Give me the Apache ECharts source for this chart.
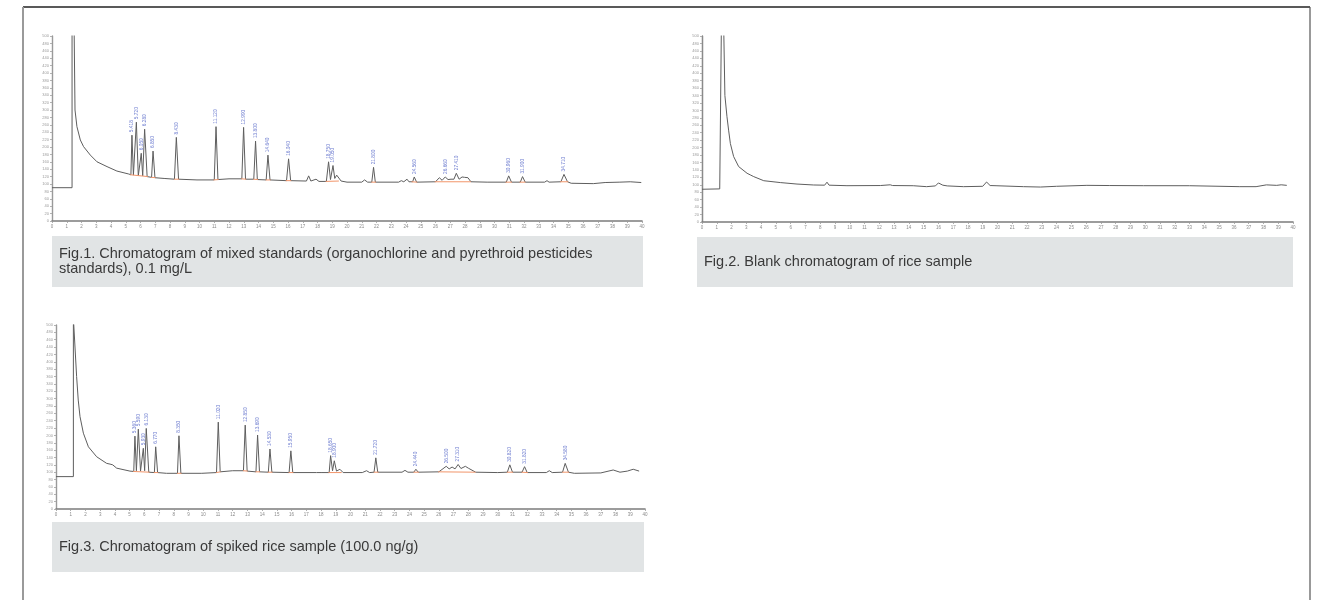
<!DOCTYPE html>
<html>
<head>
<meta charset="utf-8">
<title>GC-ECD chromatograms</title>
<script src="https://cdn.jsdelivr.net/npm/echarts@6/dist/echarts.min.js"></script>
<style>
  html, body { margin: 0; padding: 0; background: #ffffff; }
  #chart { width: 1332px; height: 600px; }
</style>
</head>
<body>
<div id="chart"></div>
<script>
// Retention time (min) / detector response pairs for each run.
const traceStd = [
  [0,90],[1.36,90],[1.36,520],[1.50,520],[1.56,300],[1.69,255],[1.92,219],[2.14,201],[2.6,178],[3.05,160],
  [3.73,147],[4.4,135],[5.2,127],[5.35,125],[5.42,232],[5.52,124],[5.72,267],[5.85,122],[6.05,183],[6.15,122],
  [6.28,248],[6.45,120],[6.75,118],[6.85,189],[6.98,117],[7.6,115],[8.3,113],[8.43,226],[8.58,113],[9.83,111],
  [11.0,111],[11.12,255],[11.25,112],[12.0,114],[12.87,114],[12.99,253],[13.12,113],[13.68,113],[13.80,216],
  [13.92,112],[14.52,111],[14.64,178],[14.78,111],[15.9,109],[16.04,168],[16.18,109],[17.25,108],[17.40,122],
  [17.55,108],[17.9,113],[18.1,107],[18.6,107],[18.75,160],[18.88,112],[19.05,150],[19.17,115],[19.3,124],
  [19.6,108],[20.0,105],[21.0,105],[21.19,111],[21.4,105],[21.68,105],[21.80,145],[21.92,105],[23.5,105],
  [23.68,109],[23.85,106],[24.07,113],[24.2,106],[24.45,106],[24.56,119],[24.72,105],[26.0,106],[26.26,117],
  [26.45,110],[26.66,119],[26.85,112],[27.05,113],[27.25,113],[27.41,129],[27.6,113],[27.8,119],[27.9,115],
  [27.97,118],[28.08,114],[28.2,117],[28.4,106],[29.5,105],[30.8,105],[30.96,122],[31.15,105],[31.75,105],
  [31.9,120],[32.08,105],[33.4,105],[33.56,109],[33.7,105],[34.5,106],[34.71,126],[34.95,106],[35.2,102],
  [36.7,101],[37.5,104],[38.5,105],[39.2,106],[39.95,104]
];

const traceBlank = [
  [0,88],[1.2,89],[1.31,90],[1.31,520],[1.47,520],[1.55,340],[1.69,283],[1.80,247],[1.92,211],[2.14,176],
  [2.48,149],[3.05,131],[3.3,126],[3.38,127],[3.5,122],[4.18,111],[5.3,106],[6.43,102],[7.56,99.5],[8.3,99],
  [8.46,107],[8.6,99],[9.81,97.6],[12.07,98],[12.74,100],[12.9,98],[14.3,97.5],[15.2,95],[15.8,97],[16.0,105],
  [16.3,99],[16.6,97],[17.7,95],[19.0,96],[19.26,107.5],[19.5,98],[19.9,97.5],[21.76,95],[22.9,94],[24.0,96],
  [26.05,98.5],[27.6,98],[29.87,97.6],[33.0,97.5],[36.4,95],[37.5,95],[38.2,99.8],[38.9,98.5],[39.2,100],
  [39.58,98.5]
];

const traceSpiked = [
  [0,88],[1.18,88],[1.18,520],[1.29,520],[1.40,360],[1.51,296],[1.63,251],[1.86,206],[2.2,169],[2.76,142],
  [3.44,124],[3.67,122],[3.75,124],[3.85,120],[4.12,111],[5.02,103],[5.28,102],[5.36,198],[5.46,104],
  [5.59,217],[5.74,103],[5.93,165],[6.02,104],[6.13,219],[6.3,100],[6.68,99],[6.77,169],[6.9,99],[7.5,97],
  [8.25,97],[8.35,199],[8.48,97],[9.9,97],[10.9,99],[11.02,236],[11.15,101],[12.0,104],[12.73,104],
  [12.85,228],[12.98,103],[13.58,101],[13.69,201],[13.82,101],[14.42,100],[14.53,163],[14.66,100],
  [15.83,99],[15.95,158],[16.08,99],[17.7,99],[17.83,103],[18.0,99],[18.55,99],[18.65,145],[18.78,104],
  [18.9,131],[19.05,103],[19.28,108],[19.5,99],[20.8,99],[21.09,104],[21.3,99],[21.6,100],[21.72,139],
  [21.85,100],[23.5,100],[23.7,105],[23.9,100],[24.3,100],[24.44,108],[24.6,100],[26.0,101],[26.5,116],
  [26.7,109],[26.9,114],[27.1,109],[27.31,121],[27.5,110],[27.8,116],[28.0,111],[28.1,113],[28.5,100],
  [30.0,99],[30.65,100],[30.82,120],[31.0,100],[31.65,100],[31.82,115],[32.0,99],[33.3,99],[33.5,104],
  [33.7,99],[34.4,100],[34.58,124],[34.8,100],[35.2,97],[37.0,98],[37.84,106],[38.3,100],[38.8,103],
  [39.2,108],[39.6,103]
];

// Labelled (integrated) peaks: retention time, apex response.
const peaksStd = [
  [5.418,232],[5.720,267],[6.050,183],[6.280,248],[6.850,189],[8.430,226],[11.120,255],[12.990,253],
  [13.800,216],[14.640,178],[16.040,168],[18.750,160],[19.050,150],[21.800,145],[24.560,119],[26.660,119],
  [27.410,129],[30.960,122],[31.900,120],[34.710,126]
];
const peaksSpiked = [
  [5.360,198],[5.590,217],[5.930,165],[6.130,219],[6.770,169],[8.350,199],[11.020,236],[12.850,228],
  [13.690,201],[14.530,163],[15.950,158],[18.650,145],[18.900,131],[21.720,139],[24.440,108],[26.500,116],
  [27.310,121],[30.820,120],[31.820,115],[34.580,124]
];

// Integration baselines: [start time, start response, end time, end response].
const baselinesStd = [
  [5.30,125,6.50,120],[6.72,118,7.02,117],[8.28,113,8.62,113],[10.95,111,11.30,112],[12.83,114,13.17,113],
  [13.64,113,13.97,112],[14.48,111,14.82,111],[15.85,109,16.22,109],[18.55,107,19.45,108],
  [21.65,105,21.97,105],[24.38,106,24.76,105],[25.95,106,28.40,106],[30.75,105,31.18,105],
  [31.70,105,32.10,105],[34.45,106,35.00,106]
];
const baselinesSpiked = [
  [5.24,102,6.35,100],[6.64,99,6.94,99],[8.22,97,8.52,97],[10.88,99,11.18,101],[12.70,104,13.02,103],
  [13.55,101,13.86,101],[14.38,100,14.70,100],[15.80,99,16.12,99],[18.50,99,19.40,99],
  [21.58,100,21.90,100],[24.28,100,24.64,100],[25.95,101,28.50,100],[30.62,100,31.04,100],
  [31.62,100,32.04,99],[34.38,100,34.84,100]
];

const xTickStep = 1;      // minutes
const yTickStep = 20;     // response units
const xRange = [0, 40];
const yRange = [0, 500];

const captions = [
  ['Fig.1. Chromatogram of mixed standards (organochlorine and pyrethroid pesticides', 'standards), 0.1 mg/L'],
  ['Fig.2. Blank chromatogram of rice sample'],
  ['Fig.3. Chromatogram of spiked rice sample (100.0 ng/g)']
];

const grids = [
  { left: 52, top: 36, width: 590, height: 185 },
  { left: 702, top: 36, width: 591, height: 186 },
  { left: 56, top: 325, width: 589, height: 184 }
];

function xAxisFor(i) {
  return {
    type: 'value', gridIndex: i, min: xRange[0], max: xRange[1], interval: xTickStep,
    axisLine: { show: true, onZero: false, lineStyle: { color: '#7c7c7c', width: 1.6 } },
    axisTick: { show: true, length: 2, lineStyle: { color: '#9a9a9a', width: 0.8 } },
    axisLabel: { show: true, fontSize: 4.5, color: '#8a8a8a', margin: 3, fontFamily: 'Liberation Sans' },
    splitLine: { show: false }
  };
}
function yAxisFor(i) {
  return {
    type: 'value', gridIndex: i, min: yRange[0], max: yRange[1], interval: yTickStep,
    axisLine: { show: true, onZero: false, lineStyle: { color: '#9a9a9a', width: 1.4 } },
    axisTick: { show: true, length: 2, lineStyle: { color: '#a0a0a0', width: 0.8 } },
    axisLabel: { show: true, fontSize: 4, color: '#9a9a9a', margin: 3, fontFamily: 'Liberation Sans' },
    splitLine: { show: false }
  };
}

function traceSeries(data, i) {
  return {
    type: 'line', xAxisIndex: i, yAxisIndex: i, data: data, showSymbol: false, symbol: 'none',
    clip: true, silent: true, z: 2,
    lineStyle: { color: '#5e5e5e', width: 1 }
  };
}
function baselineSeries(list, i) {
  return list.map(function (b) {
    return {
      type: 'line', xAxisIndex: i, yAxisIndex: i, data: [[b[0], b[1]], [b[2], b[3]]],
      showSymbol: false, symbol: 'none', silent: true, z: 3,
      lineStyle: { color: '#f2956a', width: 1 }
    };
  });
}
function labelSeries(list, i) {
  return {
    type: 'scatter', xAxisIndex: i, yAxisIndex: i, data: list, symbolSize: 0, silent: true, z: 4,
    label: {
      show: true, position: 'top', distance: 3, rotate: 90, align: 'left', verticalAlign: 'middle',
      fontSize: 4.8, color: '#4a5cc4', fontFamily: 'Liberation Sans',
      formatter: function (p) { return p.value[0].toFixed(3); }
    }
  };
}

const yAxes = [yAxisFor(0), yAxisFor(1), yAxisFor(2)];
// closing frame line on the right of the blank run
yAxes.push({
  type: 'value', gridIndex: 1, position: 'right', min: yRange[0], max: yRange[1],
  axisLine: { show: true, lineStyle: { color: '#8a8a8a', width: 1.2 } },
  axisTick: { show: false }, axisLabel: { show: false }, splitLine: { show: false }
});

const captionBoxes = [
  { x: 52, y: 236, w: 591, h: 51 },
  { x: 697, y: 237, w: 596, h: 50 },
  { x: 52, y: 522, w: 592, h: 50 }
];

const graphics = [];
// outer frame
graphics.push({ type: 'line', shape: { x1: 23, y1: 7, x2: 1310, y2: 7 }, style: { stroke: '#222', lineWidth: 1.5 } });
graphics.push({ type: 'line', shape: { x1: 23, y1: 7, x2: 23, y2: 600 }, style: { stroke: '#9a9a9a', lineWidth: 2 } });
graphics.push({ type: 'line', shape: { x1: 1310, y1: 7, x2: 1310, y2: 600 }, style: { stroke: '#555', lineWidth: 1.2 } });
captionBoxes.forEach(function (b, k) {
  graphics.push({ type: 'rect', shape: { x: b.x, y: b.y, width: b.w, height: b.h }, style: { fill: '#e1e4e5' }, z: 1 });
  const lines = captions[k];
  const lh = 15;
  const startY = b.y + b.h / 2 - (lines.length - 1) * lh / 2;
  lines.forEach(function (t, j) {
    graphics.push({
      type: 'text', x: b.x + 7, y: startY + j * lh, z: 2,
      style: { text: t, fill: '#3a3a3a', font: '14.5px "Liberation Sans", Arial, sans-serif', textVerticalAlign: 'middle' }
    });
  });
});

const series = [
  traceSeries(traceStd, 0), traceSeries(traceBlank, 1), traceSeries(traceSpiked, 2)
].concat(baselineSeries(baselinesStd, 0), baselineSeries(baselinesSpiked, 2), [
  labelSeries(peaksStd, 0), labelSeries(peaksSpiked, 2)
]);

const chart = echarts.init(document.getElementById('chart'), null, { renderer: 'canvas' });
chart.setOption({
  animation: false,
  backgroundColor: '#ffffff',
  grid: grids,
  xAxis: [xAxisFor(0), xAxisFor(1), xAxisFor(2)],
  yAxis: yAxes,
  series: series,
  graphic: graphics
});
</script>
</body>
</html>
